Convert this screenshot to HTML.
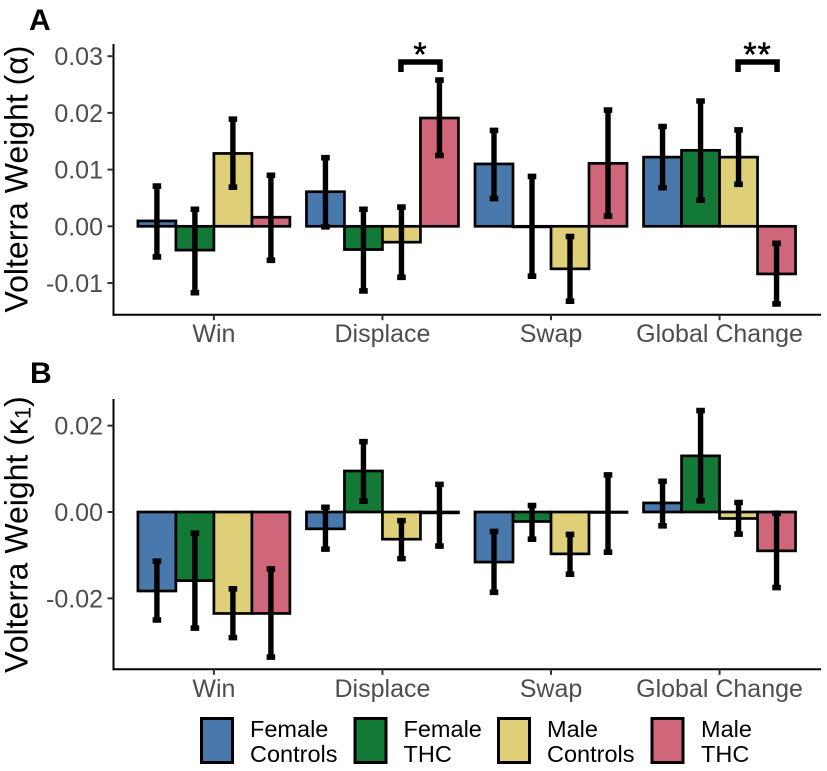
<!DOCTYPE html>
<html lang="en">
<head>
<meta charset="utf-8">
<title>Volterra Weights</title>
<style>
html,body{margin:0;padding:0;background:#fff;}
svg{display:block;font-family:"Liberation Sans",sans-serif;}
</style>
</head>
<body>
<svg id="chart" xmlns="http://www.w3.org/2000/svg" width="827" height="771" viewBox="0 0 827 771">
  <rect width="827" height="771" fill="#ffffff"/>
  <text x="29" y="30" font-size="30" font-weight="bold" fill="#000">A</text>
  <text x="30" y="383" font-size="30" font-weight="bold" fill="#000">B</text>
  <text transform="translate(27.5,179) rotate(-90)" text-anchor="middle" font-size="32" fill="#000">Volterra Weight (α)</text>
  <text transform="translate(27.5,534.5) rotate(-90)" text-anchor="middle" font-size="32" fill="#000">Volterra Weight (κ<tspan font-size="22" dy="3">1</tspan><tspan dy="-3">)</tspan></text>
  <g id="plots"></g>
  <g>
    <rect x="201.5" y="718.5" width="31" height="44" fill="#4878AC" stroke="#000" stroke-width="3"/>
    <text font-size="23.5" fill="#000"><tspan x="250" y="737">Female</tspan><tspan x="250" y="762">Controls</tspan></text>
    <rect x="355" y="718.5" width="31" height="44" fill="#127A36" stroke="#000" stroke-width="3"/>
    <text font-size="23.5" fill="#000"><tspan x="403.5" y="737">Female</tspan><tspan x="403.5" y="762">THC</tspan></text>
    <rect x="498.5" y="718.5" width="31" height="44" fill="#DFCF78" stroke="#000" stroke-width="3"/>
    <text font-size="23.5" fill="#000"><tspan x="547" y="737">Male</tspan><tspan x="547" y="762">Controls</tspan></text>
    <rect x="652" y="718.5" width="31" height="44" fill="#CF6679" stroke="#000" stroke-width="3"/>
    <text font-size="23.5" fill="#000"><tspan x="701" y="737">Male</tspan><tspan x="701" y="762">THC</tspan></text>
  </g>
</svg>
<script>
const categories = ['Win', 'Displace', 'Swap', 'Global Change'];
const groups = ['female-controls', 'female-thc', 'male-controls', 'male-thc'];
const groupColors = ['#4878AC', '#127A36', '#DFCF78', '#CF6679'];

const ticksA = [0.03, 0.02, 0.01, 0, -0.01];
const tickLabelsA = ['0.03', '0.02', '0.01', '0.00', '-0.01'];
const ticksB = [0.02, 0, -0.02];
const tickLabelsB = ['0.02', '0.00', '-0.02'];

// Panel A: one row per category, one value per group
const meansA = [
  [0.00095, -0.0042, 0.01285, 0.0016],
  [0.0061, -0.0041, -0.0028, 0.0191],
  [0.011, -0.0001, -0.0075, 0.0111],
  [0.0122, 0.0134, 0.0122, -0.0084]
];
const upperA = [
  [0.0071, 0.003, 0.0189, 0.009],
  [0.0121, 0.003, 0.0034, 0.0258],
  [0.0169, 0.0088, -0.0018, 0.0205],
  [0.0176, 0.0221, 0.017, -0.003]
];
const lowerA = [
  [-0.0054, -0.0117, 0.0069, -0.006],
  [-0.0001, -0.0114, -0.009, 0.0125],
  [0.0049, -0.0088, -0.0132, 0.0018],
  [0.0068, 0.0046, 0.0074, -0.0137]
];

// Panel B
const meansB = [
  [-0.0183, -0.0159, -0.0235, -0.0235],
  [-0.0039, 0.0095, -0.0063, -0.0002],
  [-0.0116, -0.0022, -0.0097, -0.0001],
  [0.0021, 0.013, -0.0015, -0.009]
];
const upperB = [
  [-0.0114, -0.0049, -0.0178, -0.0132],
  [0.0011, 0.0163, -0.002, 0.0064],
  [-0.0045, 0.0015, -0.0052, 0.0086],
  [0.0071, 0.0235, 0.0022, -0.0003]
];
const lowerB = [
  [-0.025, -0.0269, -0.0291, -0.0336],
  [-0.0086, 0.0025, -0.0108, -0.0079],
  [-0.0186, -0.0063, -0.0144, -0.0093],
  [-0.0032, 0.0026, -0.0051, -0.0175]
];

// Significance annotations in panel A: category index and label
const sigCategories = [1, 3];
const sigLabels = ['*', '**'];

const NS = 'http://www.w3.org/2000/svg';
const root = document.getElementById('plots');

function make(tag, attrs, parent) {
  const el = document.createElementNS(NS, tag);
  for (const k in attrs) el.setAttribute(k, attrs[k]);
  parent.appendChild(el);
  return el;
}

// Shared x axis function
function xCat(i) { return 213.9 + i * 168.55; }
function xBar(i, j) { return xCat(i) + (j - 1.5) * 38; }

// y axis functions
function yA(v) { return 226.3 - v * 5670; }
function yB(v) { return 512 - v * 4317; }

function drawPanel(prefix, y, means, upper, lower, ticks, tickLabels, axisTop, axisBottom) {
  const panel = make('g', {}, root);
  
  

  // bars
  means.forEach(function (row, i) {
    row.forEach(function (v, j) {
      const y0 = y(0), y1 = y(v);
      const bar = make('rect', {
        x: xBar(i, j) - 19,
        y: Math.min(y0, y1),
        width: 38,
        height: Math.abs(y1 - y0),
        fill: groupColors[j],
        stroke: '#000',
        'stroke-width': 2.7
      }, panel);
      
      
    });
  });

  // error bars
  means.forEach(function (row, i) {
    row.forEach(function (v, j) {
      const cx = xBar(i, j);
      const hi = y(upper[i][j]), lo = y(lower[i][j]);
      const eb = make('path', {
        d: 'M' + cx + ' ' + hi + 'V' + lo,
        fill: 'none',
        stroke: '#000',
        'stroke-width': 5.4
      }, panel);
      
      
      const caps = make('path', {
        d: 'M' + (cx - 4.3) + ' ' + hi + 'H' + (cx + 4.3) + 'M' + (cx - 4.3) + ' ' + lo + 'H' + (cx + 4.3),
        fill: 'none',
        stroke: '#000',
        'stroke-width': 5.6
      }, panel);
      
      
    });
  });

  // y axis
  const yAxis = make('line', { x1: 113.5, x2: 113.5, y1: axisTop, y2: axisBottom + 1, stroke: '#000', 'stroke-width': 2 }, panel);
  
  
  ticks.forEach(function (t, k) {
    const tick = make('line', { x1: 107.5, x2: 113, y1: y(t), y2: y(t), stroke: '#333', 'stroke-width': 2 }, panel);
    
    
    const label = make('text', { x: 103, y: y(t) + 9, 'text-anchor': 'end', 'font-size': 25, fill: '#4D4D4D' }, panel);
    
    
    label.textContent = tickLabels[k];
  });

  // x axis
  const xAxis = make('line', { x1: 112.5, x2: 821, y1: axisBottom, y2: axisBottom, stroke: '#000', 'stroke-width': 2 }, panel);
  
  
  categories.forEach(function (c, i) {
    const tick = make('line', { x1: xCat(i), x2: xCat(i), y1: axisBottom, y2: axisBottom + 5.5, stroke: '#333', 'stroke-width': 2 }, panel);
    
    
    const label = make('text', { x: xCat(i), y: axisBottom + 27.5, 'text-anchor': 'middle', 'font-size': 25, fill: '#4D4D4D' }, panel);
    
    
    label.textContent = c;
  });
  return panel;
}

const panelA = drawPanel('panel-a', yA, meansA, upperA, lowerA, ticksA, tickLabelsA, 44, 314.7);
drawPanel('panel-b', yB, meansB, upperB, lowerB, ticksB, tickLabelsB, 399, 669.3);

// significance brackets span the last two groups of a category
sigCategories.forEach(function (cat, k) {
  const x1 = xBar(cat, 2) - 0.5, x2 = xBar(cat, 3) + 0.5;
  const bracket = make('path', {
    d: 'M' + x1 + ' 72V62H' + x2 + 'V72',
    fill: 'none',
    stroke: '#000',
    'stroke-width': 5.5
  }, panelA);
  
  
  const star = make('text', {
    x: (x1 + x2) / 2,
    y: 66,
    'text-anchor': 'middle',
    'font-size': 34,
    'letter-spacing': 1,
    stroke: '#000',
    'stroke-width': 0.5,
    fill: '#000'
  }, panelA);
  
  
  star.textContent = sigLabels[k];
});
</script>
</body>
</html>
